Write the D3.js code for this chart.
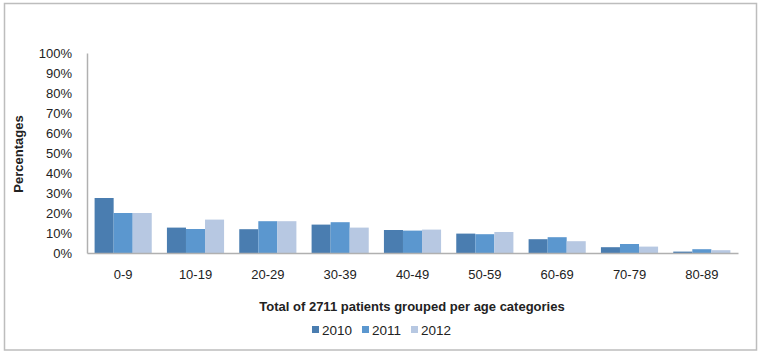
<!DOCTYPE html>
<html>
<head>
<meta charset="utf-8">
<script src="https://cdn.jsdelivr.net/npm/d3@7"></script>
<style>
  html, body { margin: 0; padding: 0; background: #fff; }
  svg { display: block; font-family: "Liberation Sans", Arial, sans-serif; }
</style>
</head>
<body>
<svg id="chart" width="760" height="354"></svg>
<script>
const categories = ["0-9", "10-19", "20-29", "30-39", "40-49", "50-59", "60-69", "70-79", "80-89"];
const seriesNames = ["2010", "2011", "2012"];
const values2010 = [27.5, 12.7, 11.9, 14.2, 11.5, 9.7, 6.9, 2.9, 0.7];
const values2011 = [20.0, 12.0, 15.9, 15.4, 11.2, 9.4, 7.9, 4.5, 1.9];
const values2012 = [20.0, 16.7, 15.9, 12.7, 11.7, 10.5, 5.9, 3.2, 1.4];
const yTicks = [0, 10, 20, 30, 40, 50, 60, 70, 80, 90, 100];
const colors = ["#4a7db0", "#5b97cf", "#b7c8e2"];
const xTitle = "Total of 2711 patients grouped per age categories";
const yTitle = "Percentages";

(function () {
const series = [values2010, values2011, values2012];
const svg = d3.select("#chart");

// outer frame
svg.append("rect")
  .attr("x", 4.5).attr("y", 3.5).attr("width", 752).attr("height", 346.5)
  .attr("fill", "#fff").attr("stroke", "#bdbdbd").attr("stroke-width", 1.5);

const pLeft = 87, pRight = 738, pTop = 53, pBottom = 253;

const x = d3.scaleBand().domain(categories).range([pLeft, pRight]).paddingInner(0.21).paddingOuter(0.105);
const xs = d3.scaleBand().domain(seriesNames).range([0, x.bandwidth()]);
const y = d3.scaleLinear().domain([0, 100]).range([pBottom, pTop]);

// bars
seriesNames.forEach((name, si) => {
  svg.append("g").selectAll("rect")
    .data(categories.map((c, i) => ({ c, v: series[si][i] })))
    .join("rect")
    .attr("x", d => x(d.c) + xs(name))
    .attr("y", d => y(d.v))
    .attr("width", xs.bandwidth())
    .attr("height", d => y(0) - y(d.v))
    .attr("fill", colors[si]);
});

// y axis
const yAxis = svg.append("g")
  .attr("transform", `translate(${pLeft},0)`)
  .call(d3.axisLeft(y).tickValues(yTicks).tickFormat(d => d + "%").tickSize(0).tickPadding(15));
yAxis.select(".domain").attr("stroke", "#b0b0b0").attr("stroke-width", 1.5);
yAxis.selectAll("text").attr("font-size", 13).attr("fill", "#222").attr("font-family", "Liberation Sans, Arial, sans-serif");

// x axis
const xAxis = svg.append("g")
  .attr("transform", `translate(0,${pBottom})`)
  .call(d3.axisBottom(x).tickSize(0).tickPadding(17));
xAxis.select(".domain").attr("stroke", "#b0b0b0").attr("stroke-width", 1.5);
xAxis.selectAll("text").attr("font-size", 13).attr("fill", "#222").attr("font-family", "Liberation Sans, Arial, sans-serif");

// axis titles
svg.append("text")
  .attr("x", 412).attr("y", 310.5)
  .attr("text-anchor", "middle")
  .attr("font-size", 13).attr("font-weight", "bold").attr("fill", "#222")
  .text(xTitle);

svg.append("text")
  .attr("transform", "translate(23,154) rotate(-90)")
  .attr("text-anchor", "middle")
  .attr("font-size", 13).attr("font-weight", "bold").attr("fill", "#222")
  .text(yTitle);

// legend
const legendX = [312, 362, 411];
const lg = svg.append("g");
seriesNames.forEach((name, i) => {
  lg.append("rect")
    .attr("x", legendX[i]).attr("y", 326).attr("width", 7).attr("height", 7)
    .attr("fill", colors[i]);
  lg.append("text")
    .attr("x", legendX[i] + 10).attr("y", 335)
    .attr("font-size", 13.5).attr("fill", "#222")
    .text(name);
});
})();
</script>
</body>
</html>
